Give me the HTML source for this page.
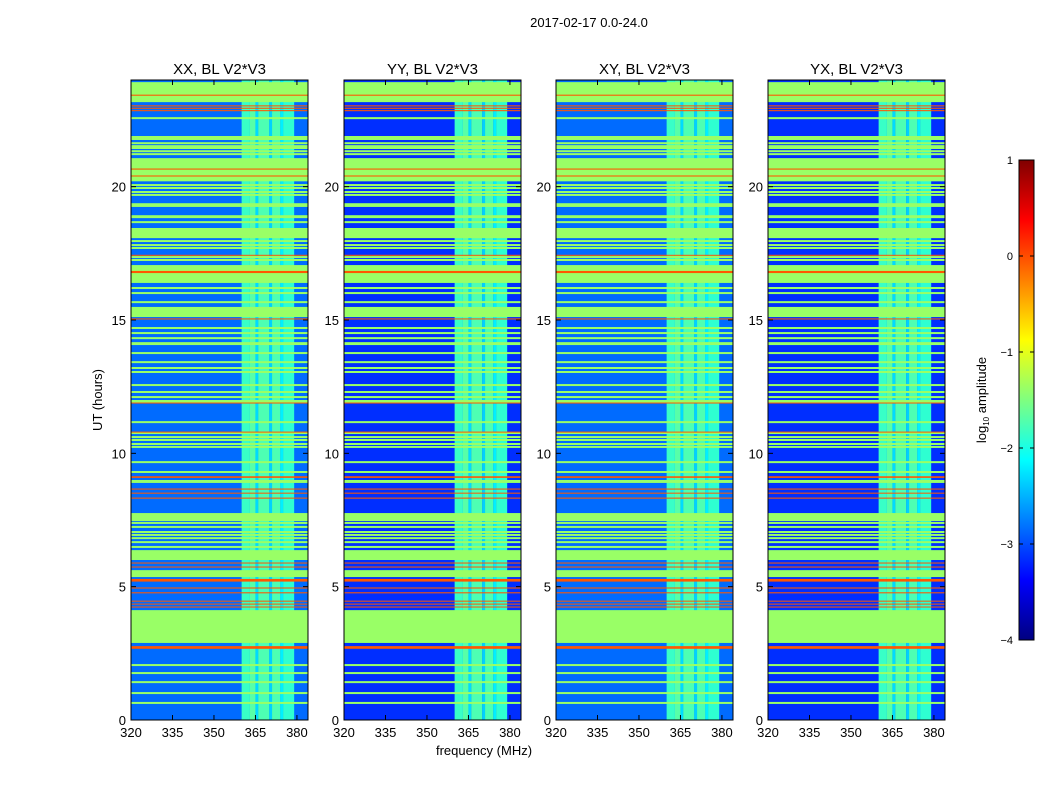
<!DOCTYPE html>
<html><head><meta charset="utf-8">
<style>
body{margin:0;background:#fff;width:1050px;height:800px;overflow:hidden;font-family:"Liberation Sans","DejaVu Sans",sans-serif;}
#root{position:relative;width:1050px;height:800px;}
</style></head>
<body>
<div id="root">
<svg id="svg" width="1050" height="800" xmlns="http://www.w3.org/2000/svg" style="position:absolute;left:0;top:0"></svg>
</div>
<script>
// ---- data ----
const panelTitles = ["XX, BL V2*V3","YY, BL V2*V3","XY, BL V2*V3","YX, BL V2*V3"];
const panelBackground = [-2.85, -3.15, -2.85, -3.15];
const xTicks = [320,335,350,365,380];
const yTicks = [0,5,10,15,20];
const cbTicks = [1,0,-1,-2,-3,-4];
const flagValue = -1.375;
const redValue = -0.05;
// flagged (green) time bands [start hour, end hour]
const flagBands = [[23.17,23.92],[21.75,21.9],[20.2,21.07],[19.24,19.38],[18.82,18.93],[18.07,18.45],[16.39,17.06],[15.11,15.49],[14.06,14.17],[11.9,12.0],[8.89,9.0],[7.46,7.76],[6.0,6.37],[5.36,5.62],[2.89,4.12]];
// thin flagged lines (hour)
const thinFlags = [22.57,21.63,21.52,21.45,21.33,21.22,20.06,19.95,19.8,19.69,18.67,17.96,17.81,17.7,17.36,17.25,16.2,16.01,15.67,14.7,14.51,14.32,13.76,13.42,13.2,13.05,12.56,12.3,12.11,11.17,10.76,10.61,10.5,10.35,10.24,9.67,9.3,7.39,7.24,7.05,6.94,6.82,6.67,6.49,2.06,1.76,1.42,1.01,0.64];
// red interference lines [hour, thickness hours]
const redLines = [[23.43,0.04],[23.03,0.04],[22.94,0.04],[22.85,0.04],[20.66,0.04],[20.4,0.04],[17.43,0.03],[16.8,0.08],[15.04,0.04],[11.89,0.03],[10.8,0.03],[9.11,0.06],[8.66,0.04],[8.51,0.03],[8.32,0.04],[5.89,0.03],[5.74,0.03],[5.24,0.1],[4.95,0.04],[4.77,0.04],[4.46,0.03],[4.35,0.03],[4.24,0.03],[2.72,0.1]];
// bright frequency column [start MHz, end MHz, value]
const freqBands = [[360,363,-1.85],[363,365,-1.7],[365,366,-2.3],[366,370,-1.75],[370,371,-2.35],[371,374,-1.75],[374,375,-2.2],[375,379,-1.9]];

// ---- layout ----
const panelX = [131,344,556,768];
const PW = 177, PT = 80, PB = 720;
const fmin = 320, fmax = 384, tmin = 0, tmax = 24;
const svg = document.getElementById('svg');
const NS = "http://www.w3.org/2000/svg";
function jet(v){
  let t = (v+4)/5; t = Math.max(0,Math.min(1,t));
  const c = x=>Math.round(255*Math.max(0,Math.min(1,x)));
  return `rgb(${c(1.5-Math.abs(4*t-3))},${c(1.5-Math.abs(4*t-2))},${c(1.5-Math.abs(4*t-1))})`;
}
function mk(tag, attrs, parent){
  const e = document.createElementNS(NS, tag);
  for(const k in attrs) e.setAttribute(k, attrs[k]);
  (parent||svg).appendChild(e); return e;
}
function txt(x,y,s,size,anchor,parent){
  const t = mk('text',{x:x,y:y,'font-size':size,'text-anchor':anchor||'middle',fill:'#000','font-family':'Liberation Sans, DejaVu Sans, sans-serif'},parent);
  t.textContent = s; return t;
}
const ttl = txt(589,27,"2017-02-17 0.0-24.0",13);



panelX.forEach((x0,pi)=>{
  const xs = f => x0 + (f-fmin)/(fmax-fmin)*PW;
  const ys = h => PB - (h-tmin)/(tmax-tmin)*(PB-PT);
  const g = mk('g',{});
  
  
  const bg = mk('rect',{x:x0,y:PT,width:PW,height:PB-PT,fill:jet(panelBackground[pi])},g);
  
  
  freqBands.forEach(b=>{
    const r = mk('rect',{x:xs(b[0]),y:PT,width:xs(b[1])-xs(b[0]),height:PB-PT,fill:jet(b[2])},g);
    
    
  });
  flagBands.forEach(b=>{
    const r = mk('rect',{x:x0,y:ys(b[1]),width:PW,height:ys(b[0])-ys(b[1]),fill:jet(flagValue)},g);
    
    
  });
  thinFlags.forEach(h=>{
    const r = mk('rect',{x:x0,y:ys(h)-1,width:PW,height:2,fill:jet(flagValue)},g);
    
    
  });
  redLines.forEach(l=>{
    const r = mk('rect',{x:x0,y:ys(l[0]+l[1]/2),width:PW,height:Math.max(1,ys(l[0]-l[1]/2)-ys(l[0]+l[1]/2)),fill:jet(redValue)},g);
    
    
  });
  const fr = mk('rect',{x:x0,y:PT,width:PW,height:PB-PT,fill:'none',stroke:'#000','stroke-width':1},g);
  
  
  xTicks.forEach(f=>{
    mk('line',{x1:xs(f),x2:xs(f),y1:PB,y2:PB-5,stroke:'#000'},g);
    mk('line',{x1:xs(f),x2:xs(f),y1:PT,y2:PT+5,stroke:'#000'},g);
    const t = txt(xs(f),737,String(f),13,'middle',g);
    
    
  });
  yTicks.forEach(h=>{
    mk('line',{x1:x0,x2:x0+5,y1:ys(h),y2:ys(h),stroke:'#000'},g);
    mk('line',{x1:x0+PW,x2:x0+PW-5,y1:ys(h),y2:ys(h),stroke:'#000'},g);
    const t = txt(x0-5,ys(h)+5,String(h),13,'end',g);
    
    
  });
  const pt = txt(x0+PW/2,74,panelTitles[pi],15,'middle',g);
  
  
});
const yl = txt(0,0,"UT (hours)",13,'middle');
yl.setAttribute('transform','translate(102,400) rotate(-90)');


const xl = txt(484,755,"frequency (MHz)",13,'middle');



const defs = mk('defs',{});
const lg = mk('linearGradient',{id:'jetg',x1:0,y1:1,x2:0,y2:0},defs);
[[0,'#000080'],[0.125,'#0000ff'],[0.375,'#00ffff'],[0.625,'#ffff00'],[0.875,'#ff0000'],[1,'#800000']].forEach(s=>mk('stop',{offset:s[0],'stop-color':s[1]},lg));
const CX=1019,CW=15,CT=160,CB=640;
const cy = v => CB - (v+4)/5*(CB-CT);
const cb = mk('rect',{x:CX,y:CT,width:CW,height:CB-CT,fill:'url(#jetg)',stroke:'#000'});


cbTicks.forEach(v=>{
  mk('line',{x1:CX,x2:CX+4,y1:cy(v),y2:cy(v),stroke:'#000'});
  mk('line',{x1:CX+CW,x2:CX+CW-4,y1:cy(v),y2:cy(v),stroke:'#000'});
  const t = txt(1013,cy(v)+4,(v<0?'\u2212':'')+Math.abs(v),11,'end');
  
  
});
const cl = mk('text',{'font-size':13,'text-anchor':'middle',fill:'#000','font-family':'Liberation Sans, DejaVu Sans, sans-serif',transform:'translate(986,400) rotate(-90)'});
cl.innerHTML = 'log<tspan font-size="8" dy="3">10</tspan><tspan dy="-3"> amplitude</tspan>';


</script>
</body></html>
